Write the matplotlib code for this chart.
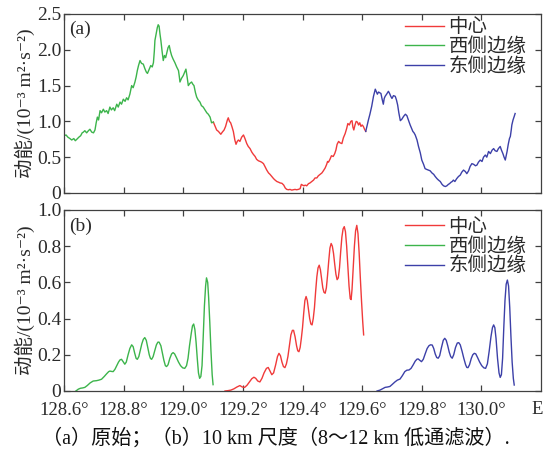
import matplotlib
matplotlib.use("Agg")
import matplotlib.pyplot as plt

plt.rcParams["font.family"] = ["Liberation Serif", "Noto Sans CJK SC", "DejaVu Serif"]

RED = "#f03a3a"
GREEN = "#3cb44b"
BLUE = "#3c40a8"
TEXT = "#2a2a2a"

# (a) raw kinetic energy, 1e-3 m2 s-2
lon_a_west = [128.600, 128.607, 128.613, 128.620, 128.626, 128.633, 128.638, 128.643, 128.650, 128.656,
              128.661, 128.665, 128.670, 128.676, 128.682, 128.687, 128.693, 128.699, 128.704, 128.708,
              128.712, 128.716, 128.721, 128.726, 128.732, 128.737, 128.743, 128.748, 128.754, 128.759,
              128.765, 128.770, 128.777, 128.782, 128.788, 128.793, 128.799, 128.805, 128.810, 128.815,
              128.821, 128.827, 128.832, 128.838, 128.842, 128.846, 128.850, 128.855, 128.860, 128.866,
              128.871, 128.876, 128.880, 128.885, 128.891, 128.896, 128.900, 128.903, 128.905, 128.909,
              128.913, 128.916, 128.919, 128.922, 128.925, 128.929, 128.933, 128.937, 128.941, 128.945,
              128.949, 128.953, 128.957, 128.961, 128.966, 128.972, 128.978, 128.984, 128.987, 128.989,
              128.994, 129.000, 129.005, 129.009, 129.013, 129.017, 129.022, 129.028, 129.032, 129.036,
              129.041, 129.045, 129.050, 129.056, 129.061, 129.067, 129.073, 129.079, 129.084, 129.090,
              129.095, 129.101]
ke_a_west = [0.80, 0.81, 0.78, 0.76, 0.74, 0.76, 0.73, 0.75, 0.78, 0.80,
             0.84, 0.85, 0.87, 0.84, 0.87, 0.89, 0.85, 0.84, 0.88, 0.98,
             1.06, 1.02, 1.15, 1.12, 1.17, 1.13, 1.15, 1.11, 1.20, 1.16,
             1.19, 1.15, 1.24, 1.20, 1.27, 1.24, 1.31, 1.28, 1.33, 1.30,
             1.38, 1.50, 1.47, 1.55, 1.62, 1.71, 1.78, 1.85, 1.81, 1.80,
             1.74, 1.69, 1.67, 1.72, 1.78, 1.76, 1.82, 1.98, 2.13, 2.22,
             2.31, 2.35, 2.33, 2.22, 2.13, 1.98, 1.85, 1.92, 1.89, 1.96,
             2.03, 2.06, 1.98, 1.92, 1.87, 1.82, 1.76, 1.71, 1.62, 1.55,
             1.60, 1.64, 1.69, 1.73, 1.62, 1.50, 1.53, 1.55, 1.52, 1.50,
             1.40, 1.34, 1.30, 1.27, 1.22, 1.20, 1.16, 1.12, 1.10, 1.06,
             0.98, 0.99]

lon_a_center = [129.101, 129.106, 129.112, 129.118, 129.126, 129.131, 129.137, 129.142, 129.148, 129.151,
                129.155, 129.159, 129.163, 129.168, 129.173, 129.177, 129.181, 129.185, 129.190, 129.196,
                129.202, 129.207, 129.213, 129.218, 129.224, 129.230, 129.235, 129.241, 129.246, 129.252,
                129.258, 129.263, 129.269, 129.274, 129.280, 129.286, 129.291, 129.297, 129.303, 129.308,
                129.314, 129.320, 129.325, 129.331, 129.337, 129.342, 129.347, 129.353, 129.358, 129.364,
                129.369, 129.375, 129.380, 129.386, 129.392, 129.396, 129.400, 129.405, 129.409, 129.414,
                129.420, 129.425, 129.431, 129.437, 129.442, 129.448, 129.453, 129.459, 129.465, 129.470,
                129.476, 129.481, 129.484, 129.487, 129.492, 129.497, 129.503, 129.508, 129.512, 129.516,
                129.521, 129.526, 129.532, 129.537, 129.543, 129.548, 129.552, 129.557, 129.562, 129.566,
                129.569, 129.572, 129.576, 129.580, 129.584, 129.588, 129.592, 129.596, 129.600, 129.604,
                129.608, 129.612]
ke_a_center = [0.99, 0.94, 0.88, 0.86, 0.82, 0.85, 0.88, 0.93, 1.02, 1.05,
               1.00, 0.98, 0.93, 0.86, 0.74, 0.68, 0.72, 0.74, 0.72, 0.78,
               0.81, 0.76, 0.69, 0.65, 0.62, 0.57, 0.54, 0.51, 0.47, 0.45,
               0.44, 0.43, 0.41, 0.37, 0.32, 0.28, 0.26, 0.23, 0.20, 0.18,
               0.16, 0.15, 0.14, 0.135, 0.11, 0.07, 0.05, 0.045, 0.05, 0.04,
               0.045, 0.05, 0.045, 0.05, 0.06, 0.12, 0.11, 0.10, 0.11, 0.10,
               0.13, 0.14, 0.16, 0.18, 0.21, 0.21, 0.24, 0.26, 0.28, 0.31,
               0.35, 0.40, 0.44, 0.43, 0.47, 0.52, 0.51, 0.55, 0.60, 0.68,
               0.72, 0.70, 0.69, 0.77, 0.83, 0.90, 0.97, 0.95, 1.00, 1.01,
               0.92, 0.88, 0.95, 1.00, 0.99, 0.95, 0.98, 0.93, 0.95, 0.93,
               0.89, 0.86]

lon_a_east = [129.612, 129.616, 129.621, 129.626, 129.632, 129.635, 129.638, 129.641, 129.644, 129.648,
              129.651, 129.655, 129.659, 129.663, 129.667, 129.671, 129.674, 129.677, 129.682, 129.688,
              129.692, 129.696, 129.700, 129.705, 129.711, 129.715, 129.719, 129.723, 129.728, 129.733,
              129.739, 129.745, 129.750, 129.755, 129.761, 129.766, 129.770, 129.774, 129.778, 129.784,
              129.789, 129.795, 129.800, 129.806, 129.811, 129.816, 129.822, 129.828, 129.834, 129.840,
              129.845, 129.851, 129.856, 129.862, 129.868, 129.873, 129.879, 129.884, 129.889, 129.893,
              129.898, 129.902, 129.906, 129.911, 129.917, 129.923, 129.929, 129.934, 129.940, 129.946,
              129.951, 129.957, 129.962, 129.968, 129.974, 129.980, 129.985, 129.990, 129.996, 130.002,
              130.007, 130.013, 130.018, 130.024, 130.030, 130.036, 130.041, 130.046, 130.052, 130.057,
              130.063, 130.067, 130.072, 130.076, 130.080, 130.083, 130.086, 130.090, 130.094, 130.097,
              130.100, 130.102, 130.106, 130.110, 130.113]
ke_a_east = [0.86, 0.93, 1.02, 1.10, 1.21, 1.28, 1.35, 1.40, 1.45, 1.41,
             1.38, 1.41, 1.40, 1.39, 1.31, 1.24, 1.32, 1.35, 1.38, 1.42,
             1.39, 1.35, 1.32, 1.36, 1.35, 1.30, 1.23, 1.12, 1.01, 1.03,
             1.07, 1.10, 1.08, 1.02, 0.95, 0.90, 0.86, 0.84, 0.81, 0.74,
             0.65, 0.56, 0.46, 0.40, 0.34, 0.33, 0.32, 0.31, 0.28, 0.26,
             0.23, 0.20, 0.18, 0.16, 0.12, 0.10, 0.09, 0.10, 0.12, 0.13,
             0.15, 0.16, 0.18, 0.16, 0.20, 0.23, 0.25, 0.29, 0.32, 0.30,
             0.27, 0.31, 0.37, 0.41, 0.40, 0.38, 0.39, 0.43, 0.46, 0.44,
             0.50, 0.53, 0.50, 0.58, 0.55, 0.60, 0.62, 0.59, 0.58, 0.62,
             0.65, 0.60, 0.55, 0.50, 0.46, 0.52, 0.58, 0.68, 0.76, 0.79,
             0.88, 0.95, 1.02, 1.07, 1.11]

# (b) 10 km scale (8-12 km low-pass)
lon_b_west = [128.640, 128.648, 128.655, 128.663, 128.670, 128.678, 128.688, 128.698, 128.709, 128.717,
              128.726, 128.735, 128.743, 128.750, 128.754, 128.760, 128.765, 128.771, 128.777, 128.783,
              128.788, 128.793, 128.798, 128.804, 128.809, 128.815, 128.821, 128.827, 128.832, 128.837,
              128.842, 128.846, 128.851, 128.856, 128.861, 128.866, 128.871, 128.876, 128.881, 128.886,
              128.890, 128.894, 128.899, 128.904, 128.910, 128.915, 128.919, 128.925, 128.930, 128.935,
              128.940, 128.944, 128.949, 128.955, 128.961, 128.966, 128.971, 128.977, 128.984, 128.991,
              128.998, 129.005, 129.011, 129.016, 129.021, 129.027, 129.031, 129.035, 129.039, 129.043,
              129.047, 129.051, 129.055, 129.059, 129.063, 129.067, 129.071, 129.075, 129.078, 129.082,
              129.085, 129.089, 129.093, 129.097, 129.100]
ke_b_west = [0.0, 0.01, 0.015, 0.017, 0.02, 0.03, 0.045, 0.055, 0.057, 0.06,
             0.065, 0.08, 0.095, 0.107, 0.11, 0.108, 0.107, 0.12, 0.14, 0.16,
             0.172, 0.175, 0.163, 0.148, 0.16, 0.20, 0.235, 0.255, 0.245, 0.21,
             0.18, 0.175, 0.19, 0.225, 0.26, 0.285, 0.295, 0.28, 0.24, 0.20,
             0.18, 0.175, 0.19, 0.22, 0.255, 0.27, 0.27, 0.25, 0.21, 0.17,
             0.14, 0.135, 0.145, 0.18, 0.205, 0.212, 0.205, 0.185, 0.16, 0.14,
             0.128, 0.125, 0.14, 0.18, 0.25, 0.32, 0.36, 0.37, 0.34, 0.27,
             0.18, 0.10, 0.07, 0.08, 0.14, 0.30, 0.47, 0.58, 0.625, 0.60,
             0.52, 0.38, 0.22, 0.09, 0.035]

lon_b_center = [129.140, 129.150, 129.160, 129.170, 129.180, 129.190, 129.198, 129.206, 129.214, 129.222,
                129.230, 129.237, 129.243, 129.250, 129.257, 129.264, 129.271, 129.279, 129.285, 129.291,
                129.297, 129.303, 129.310, 129.316, 129.321, 129.326, 129.331, 129.336, 129.341, 129.346,
                129.351, 129.356, 129.361, 129.366, 129.370, 129.375, 129.380, 129.384, 129.388, 129.392,
                129.396, 129.400, 129.404, 129.408, 129.412, 129.416, 129.420, 129.424, 129.428, 129.432,
                129.436, 129.440, 129.444, 129.448, 129.452, 129.456, 129.460, 129.464, 129.468, 129.472,
                129.476, 129.480, 129.484, 129.488, 129.492, 129.496, 129.500, 129.504, 129.508, 129.512,
                129.516, 129.520, 129.524, 129.528, 129.532, 129.536, 129.540, 129.544, 129.548, 129.552,
                129.556, 129.560, 129.563, 129.566, 129.570, 129.574, 129.578, 129.582, 129.586, 129.590,
                129.594, 129.598, 129.602, 129.605]
ke_b_center = [0.0, 0.002, 0.005, 0.012, 0.022, 0.03, 0.022, 0.02, 0.032, 0.05,
               0.068, 0.076, 0.07, 0.055, 0.05, 0.07, 0.10, 0.125, 0.13, 0.11,
               0.09, 0.10, 0.145, 0.19, 0.208, 0.195, 0.16, 0.135, 0.129, 0.15,
               0.19, 0.25, 0.31, 0.335, 0.335, 0.30, 0.25, 0.222, 0.217, 0.24,
               0.29, 0.35, 0.43, 0.50, 0.522, 0.50, 0.45, 0.40, 0.37, 0.365,
               0.40, 0.46, 0.55, 0.63, 0.68, 0.695, 0.67, 0.62, 0.57, 0.545,
               0.54, 0.57, 0.64, 0.72, 0.79, 0.815, 0.80, 0.76, 0.70, 0.645,
               0.615, 0.625, 0.68, 0.77, 0.85, 0.895, 0.908, 0.88, 0.80, 0.69,
               0.58, 0.51, 0.505, 0.56, 0.68, 0.80, 0.885, 0.915, 0.87, 0.76,
               0.62, 0.494, 0.38, 0.31]

lon_b_east = [129.650, 129.660, 129.668, 129.677, 129.685, 129.693, 129.700, 129.710, 129.718, 129.727,
              129.735, 129.743, 129.750, 129.757, 129.764, 129.771, 129.778, 129.784, 129.788, 129.793,
              129.799, 129.805, 129.812, 129.818, 129.824, 129.829, 129.835, 129.840, 129.845, 129.850,
              129.855, 129.860, 129.866, 129.872, 129.877, 129.882, 129.887, 129.892, 129.897, 129.902,
              129.907, 129.913, 129.919, 129.924, 129.929, 129.935, 129.941, 129.947, 129.951, 129.955,
              129.960, 129.966, 129.971, 129.976, 129.981, 129.987, 129.994, 130.001, 130.008, 130.014,
              130.020, 130.026, 130.032, 130.037, 130.041, 130.045, 130.049, 130.054, 130.059, 130.063,
              130.067, 130.071, 130.075, 130.079, 130.083, 130.087, 130.091, 130.095, 130.099, 130.103,
              130.107, 130.110]
ke_b_east = [0.0, 0.005, 0.012, 0.02, 0.022, 0.025, 0.035, 0.05, 0.06, 0.066,
             0.085, 0.107, 0.115, 0.116, 0.125, 0.144, 0.165, 0.176, 0.177, 0.17,
             0.162, 0.175, 0.208, 0.235, 0.25, 0.255, 0.254, 0.235, 0.205, 0.185,
             0.181, 0.195, 0.24, 0.28, 0.291, 0.28, 0.25, 0.215, 0.19, 0.181,
             0.20, 0.24, 0.265, 0.267, 0.255, 0.22, 0.18, 0.145, 0.13, 0.129,
             0.145, 0.18, 0.20, 0.208, 0.205, 0.185, 0.16, 0.14, 0.128, 0.125,
             0.15, 0.22, 0.30, 0.35, 0.365, 0.35, 0.29, 0.18, 0.10, 0.075,
             0.09, 0.18, 0.35, 0.50, 0.59, 0.613, 0.58, 0.46, 0.30, 0.16,
             0.07, 0.033]

x_ticks = [128.6, 128.8, 129.0, 129.2, 129.4, 129.6, 129.8, 130.0]
y_ticks_a = [0, 0.5, 1.0, 1.5, 2.0, 2.5]
y_ticks_b = [0, 0.2, 0.4, 0.6, 0.8, 1.0]
labels = ["中心", "西侧边缘", "东侧边缘"]
ylabel = "动能/(10⁻³ m²·s⁻²)"
caption = "（a）原始；（b）10 km 尺度（8～12 km 低通滤波）."


def style_axis(ax, yticks, show_xlabels):
    ax.set_xlim(128.6, 130.2)
    ax.set_ylim(0, yticks[-1])
    ax.set_xticks(x_ticks)
    ax.set_yticks(yticks)
    ax.set_yticklabels(["0" if v == 0 else f"{v:.1f}" for v in yticks], fontsize=14, color=TEXT)
    if show_xlabels:
        ax.set_xticklabels([f"{v:.1f}°" for v in x_ticks], fontsize=13.5, color=TEXT)
    else:
        ax.set_xticklabels([])
    ax.tick_params(axis="y", direction="in", right=True, length=4, width=0.9, color="#404040", pad=2)
    ax.tick_params(axis="x", direction="in", top=True, length=4, width=0.9, color="#404040", pad=8)
    for sp in ax.spines.values():
        sp.set_color("#404040")
        sp.set_linewidth(0.9)
    ax.set_ylabel(ylabel, fontsize=14, color=TEXT, labelpad=1)


fig = plt.figure(figsize=(5.44, 4.62), dpi=100)
ax_a = fig.add_axes([0.1176, 0.5823, 0.877, 0.3874])
ax_b = fig.add_axes([0.1176, 0.1537, 0.877, 0.3918])

lw = 1.0
for ax, (w_lon, w_ke), (c_lon, c_ke), (e_lon, e_ke), yticks, tag, leg_top in [
    (ax_a, (lon_a_west, ke_a_west), (lon_a_center, ke_a_center), (lon_a_east, ke_a_east), y_ticks_a, "(a)", 0.985),
    (ax_b, (lon_b_west, ke_b_west), (lon_b_center, ke_b_center), (lon_b_east, ke_b_east), y_ticks_b, "(b)", 0.965),
]:
    l_c, = ax.plot(c_lon, c_ke, color=RED, lw=lw)
    l_w, = ax.plot(w_lon, w_ke, color=GREEN, lw=lw)
    l_e, = ax.plot(e_lon, e_ke, color=BLUE, lw=lw)
    style_axis(ax, yticks, ax is ax_b)
    ax.text(0.01, 0.96, tag, transform=ax.transAxes, ha="left", va="top", fontsize=14, color=TEXT)
    ax.legend([l_c, l_w, l_e], labels, loc="upper left", bbox_to_anchor=(0.71, leg_top),
              frameon=False, fontsize=14, handlelength=2.0, handletextpad=0.25,
              labelspacing=0.05, borderaxespad=0.0, borderpad=0.1, labelcolor=TEXT)

fig.text(537 / 544, 1 - 410 / 462, "E", ha="center", va="center", fontsize=13.5, color=TEXT)
fig.text(0.507, 0.050, caption, ha="center", va="center", fontsize=14.5, color="#111111")

fig.savefig("out.png", dpi=100)
plt.close(fig)
